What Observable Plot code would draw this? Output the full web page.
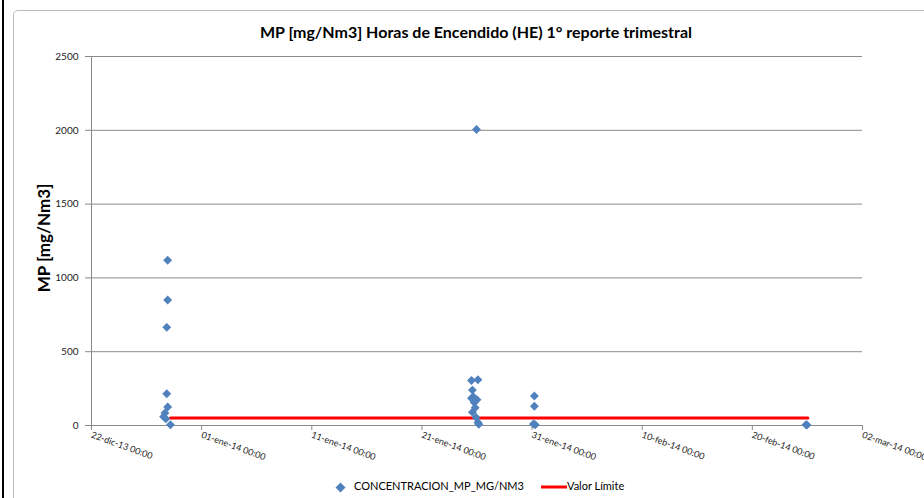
<!DOCTYPE html>
<html>
<head>
<meta charset="utf-8">
<script src="https://cdn.jsdelivr.net/npm/d3@7"></script>
<script src="https://cdn.jsdelivr.net/npm/@observablehq/plot@0.6"></script>
<style>
  html, body { margin: 0; padding: 0; background: #fff; }
  #wrap { position: relative; width: 924px; height: 498px; overflow: hidden; font-family: Lato, "Open Sans", sans-serif; }
  #blackbar { position: absolute; left: 2px; top: 0; width: 2px; height: 498px; background: #000; }
  #frame { position: absolute; left: 13px; top: 10px; width: 1000px; height: 600px; border: 1px solid #bcbcbc; border-radius: 5px; }
  #title { position: absolute; left: 0; width: 952px; top: 22px; text-align: center; font-weight: bold; font-size: 16px; color: #000; }
  #ylabel { position: absolute; left: 43px; top: 238px; transform: translate(-50%, -50%) rotate(-90deg); font-weight: bold; font-size: 17px; white-space: nowrap; color: #000; }
  #legend { position: absolute; top: 479px; left: 0; width: 924px; font-size: 11px; color: #000; }
  .lg { position: absolute; white-space: nowrap; }
  #chart { position: absolute; left: 0; top: 0; }
</style>
</head>
<body>
<div id="wrap">
  <div id="blackbar"></div>
  <div id="frame"></div>
  <div id="chart"></div>
  <div id="title">MP [mg/Nm3] Horas de Encendido (HE) 1° reporte trimestral</div>
  <div id="ylabel">MP [mg/Nm3]</div>
  <div id="legend">
    <svg class="lg" style="left:335px; top:3px" width="11" height="11"><path d="M5.5,0.5L10.5,5.5L5.5,10.5L0.5,5.5Z" fill="#4F81BD"/></svg>
    <span class="lg" style="left:354px; top:0px">CONCENTRACION_MP_MG/NM3</span>
    <svg class="lg" style="left:541px; top:6px" width="26" height="4"><rect x="0" y="0.5" width="26" height="3" fill="#FF0000"/></svg>
    <span class="lg" style="left:567px; top:0px">Valor Límite</span>
  </div>
</div>
<script>
// Serie: CONCENTRACION_MP_MG/NM3
const fechas = [
  "2013-12-28T22:00", "2013-12-28T22:00", "2013-12-28T20:00", "2013-12-28T20:00",
  "2013-12-28T22:00", "2013-12-28T16:00", "2013-12-28T13:00", "2013-12-28T18:00",
  "2013-12-29T04:00",
  "2014-01-25T23:00", "2014-01-25T12:00", "2014-01-26T02:00", "2014-01-25T14:00",
  "2014-01-25T16:00", "2014-01-25T12:00", "2014-01-26T00:00", "2014-01-25T18:00",
  "2014-01-25T20:00", "2014-01-25T14:00", "2014-01-25T22:00", "2014-01-26T02:00",
  "2014-01-26T04:00",
  "2014-01-31T05:00", "2014-01-31T05:00", "2014-01-31T03:00", "2014-01-31T07:00",
  "2014-02-24T21:00", "2014-02-24T23:00"
];
const valores = [
  1120, 850, 665, 215,
  125, 85, 60, 45,
  5,
  2005, 305, 310, 240,
  195, 185, 175, 155,
  120, 90, 55, 20,
  8,
  200, 130, 10, 5,
  5, 3
];
// Serie: Valor Límite
const limiteFechas = ["2013-12-29T04:00", "2014-02-25T01:00"];
const limiteValores = [50, 50];

// Ejes
const xTickFechas = ["2013-12-22", "2014-01-01", "2014-01-11", "2014-01-21", "2014-01-31", "2014-02-10", "2014-02-20", "2014-03-02"];
const xTickEtiquetas = ["22-dic-13 00:00", "01-ene-14 00:00", "11-ene-14 00:00", "21-ene-14 00:00", "31-ene-14 00:00", "10-feb-14 00:00", "20-feb-14 00:00", "02-mar-14 00:00"];
const yTicks = [0, 500, 1000, 1500, 2000, 2500];

const parse = s => new Date(s + (s.length > 10 ? ":00Z" : "T00:00:00Z"));
const puntos = fechas.map((f, i) => ({fecha: parse(f), valor: valores[i]}));
const limite = limiteFechas.map((f, i) => ({fecha: parse(f), valor: limiteValores[i]}));
const xTicks = xTickFechas.map(parse);
const etiqueta = new Map(xTicks.map((d, i) => [+d, xTickEtiquetas[i]]));

const gris = "#8a8a8a";
const chart = Plot.plot({
  width: 924,
  height: 498,
  marginLeft: 91,
  marginRight: 62,
  marginTop: 56,
  marginBottom: 73,
  style: {fontFamily: "Lato, 'Open Sans', sans-serif", fontSize: "10px", background: "transparent", color: "#222", overflow: "visible"},
  x: {type: "utc", domain: [xTicks[0], xTicks[xTicks.length - 1]]},
  y: {domain: [0, 2500]},
  marks: [
    Plot.gridY(yTicks, {stroke: gris, strokeOpacity: 1}),
    Plot.ruleX([xTicks[0]], {stroke: gris}),
    Plot.ruleY([0], {stroke: gris}),
    Plot.axisY(yTicks, {tickSize: 6, tickPadding: 7, stroke: gris, label: null, fontSize: 10, tickFormat: d => String(d)}),
    Plot.axisX(xTicks, {tickSize: 5, tickPadding: 4, tickRotate: 20, stroke: gris, label: null, fontSize: 9, tickFormat: d => etiqueta.get(+d)}),
    Plot.line(limite, {x: "fecha", y: "valor", stroke: "#FF0000", strokeWidth: 3}),
    Plot.dot(puntos, {x: "fecha", y: "valor", symbol: "diamond2", r: 4, fill: "#4F81BD", stroke: "none"})
  ]
});
document.getElementById("chart").appendChild(chart);
</script>
</body>
</html>
